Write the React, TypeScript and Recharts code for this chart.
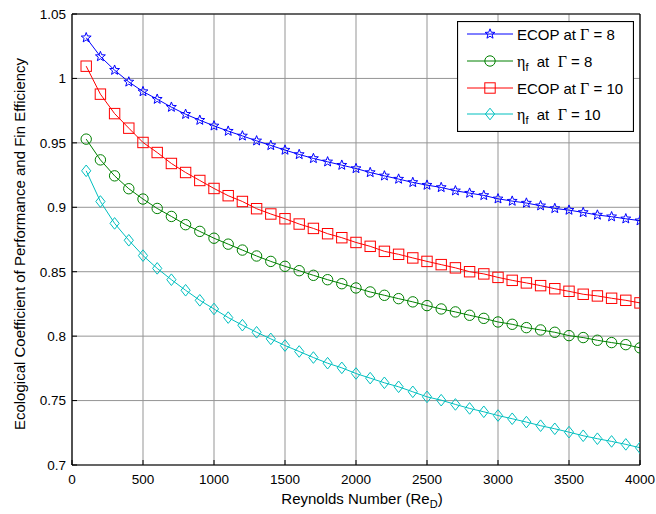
import React from 'react';
import { LineChart, Line, XAxis, YAxis, CartesianGrid, Legend } from 'recharts';

const reynolds = [
  100, 200, 300, 400, 500, 600, 700, 800, 900, 1000,
  1100, 1200, 1300, 1400, 1500, 1600, 1700, 1800, 1900, 2000,
  2100, 2200, 2300, 2400, 2500, 2600, 2700, 2800, 2900, 3000,
  3100, 3200, 3300, 3400, 3500, 3600, 3700, 3800, 3900, 4000,
];

const ecopGamma8 = [
  1.0316, 1.017, 1.0064, 0.9973, 0.9898, 0.9839, 0.9777, 0.9722, 0.9676, 0.9632,
  0.9591, 0.9554, 0.9516, 0.948, 0.9444, 0.941, 0.9379, 0.9353, 0.9327, 0.9301,
  0.927, 0.9244, 0.9219, 0.9193, 0.9172, 0.9154, 0.9128, 0.911, 0.9092, 0.9066,
  0.9048, 0.9033, 0.9012, 0.8991, 0.8978, 0.896, 0.894, 0.8927, 0.8911, 0.8896,
];

const etaGamma8 = [
  0.9529, 0.9368, 0.9244, 0.9144, 0.9064, 0.8991, 0.8929, 0.8865, 0.8813, 0.876,
  0.8714, 0.8668, 0.8622, 0.858, 0.8542, 0.8508, 0.8472, 0.8438, 0.8407, 0.8374,
  0.8343, 0.8317, 0.8291, 0.8266, 0.8237, 0.8211, 0.8188, 0.8162, 0.8138, 0.811,
  0.8092, 0.8066, 0.8048, 0.803, 0.8004, 0.7989, 0.7968, 0.795, 0.7934, 0.7909,
];

const ecopGamma10 = [
  1.0095, 0.9878, 0.9727, 0.9614, 0.9503, 0.9425, 0.934, 0.927, 0.9208, 0.9146,
  0.909, 0.9045, 0.8989, 0.8948, 0.8911, 0.887, 0.8836, 0.8795, 0.8764, 0.8727,
  0.8697, 0.8658, 0.8635, 0.8607, 0.858, 0.8555, 0.853, 0.85, 0.8483, 0.8456,
  0.8433, 0.8413, 0.8392, 0.8368, 0.8348, 0.8325, 0.8312, 0.8294, 0.8278, 0.8258,
];

const etaGamma10 = [
  0.9283, 0.9045, 0.8875, 0.8744, 0.8625, 0.8526, 0.8438, 0.8356, 0.8278, 0.8211,
  0.8144, 0.8085, 0.803, 0.7979, 0.7927, 0.7881, 0.7834, 0.779, 0.7754, 0.771,
  0.7674, 0.7638, 0.7607, 0.7568, 0.7529, 0.7503, 0.747, 0.7439, 0.7413, 0.7384,
  0.7359, 0.7333, 0.7305, 0.7281, 0.7255, 0.7227, 0.7204, 0.7183, 0.716, 0.7134,
];

const xTicks = [0, 500, 1000, 1500, 2000, 2500, 3000, 3500, 4000];
const yTicks = [0.7, 0.75, 0.8, 0.85, 0.9, 0.95, 1.0, 1.05];

const legendLabels = [
  { kind: 'ecop', gamma: '8' },
  { kind: 'eta', gamma: '8' },
  { kind: 'ecop', gamma: '10' },
  { kind: 'eta', gamma: '10' },
];

const BLUE = '#0000ff';
const GREEN = '#008000';
const RED = '#ff0000';
const CYAN = '#00bfbf';
const SANS = '"Liberation Sans", Arial, sans-serif';
const SERIF = '"Liberation Serif", "Times New Roman", serif';

const data = reynolds.map((re, i) => ({
  re,
  ecop8: ecopGamma8[i],
  eta8: etaGamma8[i],
  ecop10: ecopGamma10[i],
  eta10: etaGamma10[i],
}));

function starPoints(cx: number, cy: number, R: number, r: number) {
  const pts: string[] = [];
  for (let k = 0; k < 10; k++) {
    const ang = -Math.PI / 2 + (k * Math.PI) / 5;
    const rad = k % 2 === 0 ? R : r;
    pts.push(`${cx + rad * Math.cos(ang)},${cy + rad * Math.sin(ang)}`);
  }
  return pts.join(' ');
}

const StarMark = ({ cx, cy }: { cx: number; cy: number }) => (
  <polygon points={starPoints(cx, cy, 5.2, 2.2)} fill="none" stroke={BLUE} strokeWidth={1} />
);
const CircleMark = ({ cx, cy }: { cx: number; cy: number }) => (
  <circle cx={cx} cy={cy} r={5.2} fill="none" stroke={GREEN} strokeWidth={1} />
);
const SquareMark = ({ cx, cy }: { cx: number; cy: number }) => (
  <rect x={cx - 5.2} y={cy - 5.2} width={10.4} height={10.4} fill="none" stroke={RED} strokeWidth={1} />
);
const DiamondMark = ({ cx, cy }: { cx: number; cy: number }) => (
  <polygon
    points={`${cx},${cy - 5.8} ${cx + 4.6},${cy} ${cx},${cy + 5.8} ${cx - 4.6},${cy}`}
    fill="none"
    stroke={CYAN}
    strokeWidth={1}
  />
);

const makeDot = (Comp: any, prefix: string) => (p: any) => (
  <g key={`${prefix}-${p.index}`}>
    {p.cx != null && p.cy != null ? <Comp cx={p.cx} cy={p.cy} /> : null}
  </g>
);

const markers = [StarMark, CircleMark, SquareMark, DiamondMark];
const colors = [BLUE, GREEN, RED, CYAN];

const LegendBox = () => {
  const rowY = [13, 40, 67, 93];
  return (
    <svg width={177} height={111} style={{ display: 'block' }}>
      <rect x={0.5} y={0.5} width={176} height={110} fill="#fff" stroke="#000" strokeWidth={1.2} />
      {legendLabels.map((l, i) => {
        const M = markers[i];
        const y = rowY[i];
        return (
          <g key={i}>
            <line x1={10} x2={56} y1={y} y2={y} stroke={colors[i]} strokeWidth={1} />
            <M cx={33} cy={y} />
            {l.kind === 'ecop' ? (
              <text x={60} y={y + 5.5} fontSize={15} fontFamily={SANS} fill="#000" style={{ whiteSpace: 'pre' }}>
                {'ECOP at '}
                <tspan fontFamily={SERIF} fontSize={16}>Γ</tspan>
                {` = ${l.gamma}`}
              </text>
            ) : (
              <text x={60} y={y + 5.5} fontSize={15} fontFamily={SANS} fill="#000" style={{ whiteSpace: 'pre' }}>
                <tspan fontFamily={SERIF} fontSize={16}>η</tspan>
                <tspan fontSize={11} dy={4}>f</tspan>
                <tspan dy={-4}>{'  at  '}</tspan>
                <tspan fontFamily={SERIF} fontSize={16}>Γ</tspan>
                <tspan>{` = ${l.gamma}`}</tspan>
              </text>
            )}
          </g>
        );
      })}
    </svg>
  );
};

const XTitle = () => (
  <text x={362} y={504} textAnchor="middle" fontSize={15} fontFamily={SANS} fill="#000">
    Reynolds Number (Re
    <tspan fontSize={11} dy={4}>D</tspan>
    <tspan dy={-4}>)</tspan>
  </text>
);

const YTitle = () => (
  <text
    transform="translate(25, 244) rotate(-90)"
    textAnchor="middle"
    fontSize={15}
    fontFamily={SANS}
    fill="#000"
  >
    Ecological Coefficient of Performance and Fin Efficiency
  </text>
);

const fmtY = (v: number) => String(Number(v.toFixed(2)));

const tickStyle = { fontSize: 13.5, fill: '#000', fontFamily: SANS };

export default function App() {
  return (
    <div style={{ position: 'absolute', left: 0, top: 0, width: 656, height: 514, background: '#fff' }}>
      <LineChart
        width={656}
        height={514}
        data={data}
        margin={{ top: 0, right: 0, bottom: 0, left: 0 }}
        style={{ fontFamily: SANS }}
      >
        <CartesianGrid stroke="#959595" strokeWidth={1} />
        <XAxis
          dataKey="re"
          type="number"
          domain={[0, 4000]}
          ticks={xTicks}
          height={49}
          tickSize={-5}
          tickMargin={14}
          tick={tickStyle}
          axisLine={{ stroke: '#000', strokeWidth: 1.2 }}
          tickLine={{ stroke: '#000' }}
          label={<XTitle />}
          allowDataOverflow
        />
        <XAxis
          xAxisId="top"
          orientation="top"
          type="number"
          domain={[0, 4000]}
          ticks={xTicks}
          height={14}
          tickSize={-5}
          tick={false}
          axisLine={{ stroke: '#000', strokeWidth: 1.2 }}
          tickLine={{ stroke: '#000' }}
          allowDataOverflow
        />
        <YAxis
          type="number"
          domain={[0.7, 1.05]}
          ticks={yTicks}
          width={72}
          tickSize={-5}
          tickMargin={11}
          tick={tickStyle}
          tickFormatter={fmtY}
          axisLine={{ stroke: '#000', strokeWidth: 1.2 }}
          tickLine={{ stroke: '#000' }}
          label={<YTitle />}
          allowDataOverflow
        />
        <YAxis
          yAxisId="right"
          orientation="right"
          type="number"
          domain={[0.7, 1.05]}
          ticks={yTicks}
          width={16}
          tickSize={-5}
          tick={false}
          axisLine={{ stroke: '#000', strokeWidth: 1.2 }}
          tickLine={{ stroke: '#000' }}
          allowDataOverflow
        />
        <Line dataKey="ecop8" stroke={BLUE} strokeWidth={1} dot={makeDot(StarMark, 's')} isAnimationActive={false} />
        <Line dataKey="eta8" stroke={GREEN} strokeWidth={1} dot={makeDot(CircleMark, 'c')} isAnimationActive={false} />
        <Line dataKey="ecop10" stroke={RED} strokeWidth={1} dot={makeDot(SquareMark, 'q')} isAnimationActive={false} />
        <Line dataKey="eta10" stroke={CYAN} strokeWidth={1} dot={makeDot(DiamondMark, 'd')} isAnimationActive={false} />
        <Legend
          layout="vertical"
          align="center"
          verticalAlign="middle"
          content={() => <LegendBox />}
          wrapperStyle={{ position: 'absolute', left: 457, top: 21, width: 177, height: 111, margin: 0, padding: 0 }}
        />
      </LineChart>
    </div>
  );
}
